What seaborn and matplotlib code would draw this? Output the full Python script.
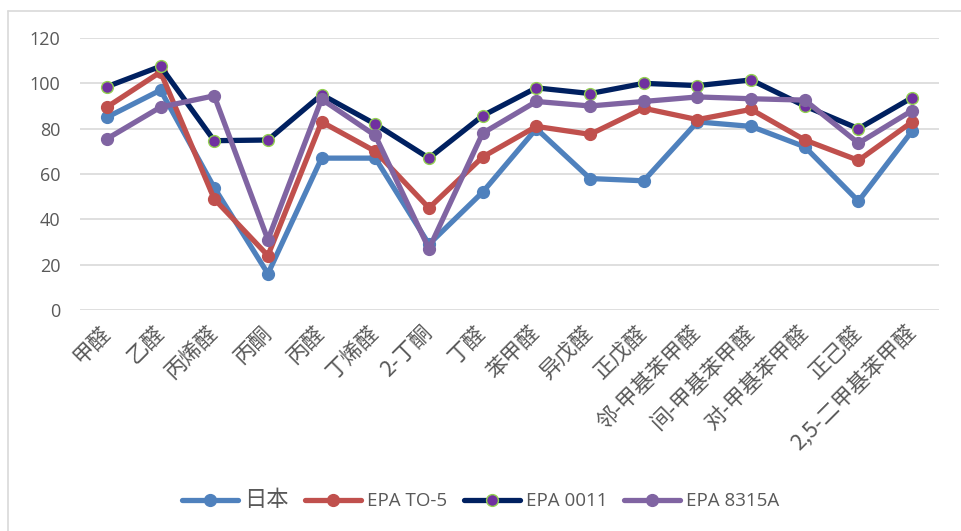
import seaborn as sns
import matplotlib.pyplot as plt
import matplotlib.lines as mlines
import pandas as pd

# Compounds on the x axis
compounds = ['甲醛', '乙醛', '丙烯醛', '丙酮', '丙醛', '丁烯醛', '2-丁酮', '丁醛',
             '苯甲醛', '异戊醛', '正戊醛', '邻-甲基苯甲醛', '间-甲基苯甲醛',
             '对-甲基苯甲醛', '正己醛', '2,5-二甲基苯甲醛']

# Values
japan = [85, 97, 54, 16, 67, 67, 29, 52, 80, 58, 57, 83, 81, 72, 48, 79]
epa_to5 = [89.5, 105, 49, 24, 83, 70, 45, 67.5, 81, 77.5, 89, 84, 88.5, 75, 66, 83]
epa_0011 = [98.5, 107.5, 74.7, 75, 95, 82, 67, 85.7, 98, 95.5, 100, 99, 101.5, 90, 80, 93.7]
epa_8315a = [75.5, 89.5, 94.5, 31, 93, 77, 27, 78, 92, 90, 92, 94, 93.2, 92.6, 73.6, 88]

series = ['日本', 'EPA TO-5', 'EPA 0011', 'EPA 8315A']
values = [japan, epa_to5, epa_0011, epa_8315a]

rows = []
for name, vals in zip(series, values):
    for c, v in zip(compounds, vals):
        rows.append({'compound': c, 'method': name, 'value': v})
df = pd.DataFrame(rows)

sns.set_style("white")
plt.rcParams['font.family'] = ['Open Sans', 'Noto Sans CJK SC', 'DejaVu Sans']

line_colors = {'日本': '#4f81bd', 'EPA TO-5': '#c0504d',
               'EPA 0011': '#002060', 'EPA 8315A': '#8064a2'}
marker_face = {'日本': '#4f81bd', 'EPA TO-5': '#c0504d',
               'EPA 0011': '#7030a0', 'EPA 8315A': '#8064a2'}
marker_edge = {'日本': '#4f81bd', 'EPA TO-5': '#c0504d',
               'EPA 0011': '#92d050', 'EPA 8315A': '#8064a2'}

fig = plt.figure(figsize=(9.61, 5.31), dpi=100)
ax = fig.add_axes([80 / 961, 1 - 310 / 531, 859 / 961, 272 / 531])

for name in series:
    sub = df[df['method'] == name]
    sns.lineplot(data=sub, x='compound', y='value', ax=ax, sort=False,
                 color=line_colors[name], linewidth=3.8, marker='o',
                 markersize=8.5, markerfacecolor=marker_face[name],
                 markeredgecolor=marker_edge[name], markeredgewidth=1.0,
                 label=name, clip_on=False)

ax.set_xlim(-0.5, len(compounds) - 0.5)
ax.set_ylim(0, 120)
ax.set_yticks(range(0, 121, 20))
ax.yaxis.grid(True, color='#d9d9d9', linewidth=1.2)
ax.set_axisbelow(True)
for s in ax.spines.values():
    s.set_visible(False)
ax.set_xlabel('')
ax.set_ylabel('')
ax.tick_params(axis='both', length=0, colors='#595959')
ax.tick_params(axis='y', labelsize=13, pad=14)
ax.set_xticks(range(len(compounds)))
ax.set_xticklabels(compounds, rotation=45, ha='right', va='center',
                   rotation_mode='anchor', fontsize=15.5,
                   family=['Noto Sans CJK SC', 'DejaVu Sans'])
ax.tick_params(axis='x', pad=14)

ax.get_legend().remove()
handles, labels = ax.get_legend_handles_labels()
leg = fig.legend(handles, labels, loc='center', bbox_to_anchor=(0.5, 1 - 500 / 531),
                 ncol=4, frameon=False, handlelength=3.0, columnspacing=0.9,
                 handletextpad=0.3, fontsize=13.5, labelcolor='#595959')
leg.get_texts()[0].set_family(['Noto Sans CJK SC', 'DejaVu Sans'])
leg.get_texts()[0].set_fontsize(16)

# chart area frame (top and left edges visible)
fig.add_artist(mlines.Line2D([8 / 961, 1.0], [1 - 11 / 531, 1 - 11 / 531],
                             color='#d9d9d9', linewidth=1.2, transform=fig.transFigure))
fig.add_artist(mlines.Line2D([8 / 961, 8 / 961], [0.0, 1 - 11 / 531],
                             color='#d9d9d9', linewidth=1.2, transform=fig.transFigure))

plt.savefig('out.png', dpi=100)
